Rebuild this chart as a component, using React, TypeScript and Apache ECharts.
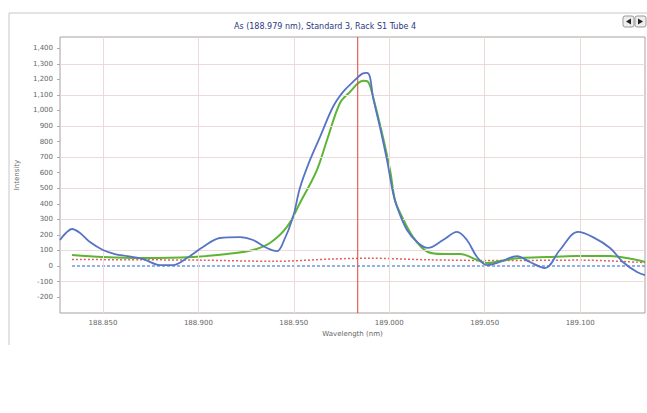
import React, { useEffect, useRef } from "react";
import * as echarts from "echarts";

const titleText = "As (188.979 nm), Standard 3, Rack S1 Tube 4";
const xLabelValues = [188.85, 188.9, 188.95, 189.0, 189.05, 189.1];
const yLabelValues = [-200, -100, 0, 100, 200, 300, 400, 500, 600, 700, 800, 900, 1000, 1100, 1200, 1300, 1400];
const yGridValues = [-100, 100, 300, 500, 700, 900, 1100, 1300];
const peakWavelength = 188.9835;
const yMin = -302;
const yMax = 1472;

const blueX = [188.8275, 188.8306, 188.8338, 188.838, 188.8432, 188.85, 188.8563, 188.8626, 188.871, 188.8799, 188.8867, 188.894, 188.9024, 188.9113, 188.9218, 188.9286, 188.9359, 188.9412, 188.9443, 188.9496, 188.9532, 188.9585, 188.9637, 188.9705, 188.9758, 188.981, 188.9857, 188.9883, 188.9899, 188.9915, 188.9951, 188.9988, 189.002, 189.0041, 189.0093, 189.0151, 189.0203, 189.0282, 189.0355, 189.0407, 189.046, 189.0512, 189.058, 189.0669, 189.0737, 189.0816, 189.0894, 189.0989, 189.1067, 189.1157, 189.1224, 189.1298, 189.134];
const blueY = [167, 212, 238, 212, 154, 103, 77, 64, 45, 6, 6, 51, 122, 180, 186, 167, 116, 96, 148, 315, 502, 682, 829, 1022, 1119, 1183, 1235, 1241, 1215, 1087, 894, 682, 469, 379, 231, 148, 116, 167, 219, 167, 58, 6, 26, 64, 26, -13, 103, 219, 186, 116, 26, -39, -58];

const greenX = [188.8338, 188.85, 188.871, 188.8972, 188.915, 188.9286, 188.9375, 188.9464, 188.9532, 188.9621, 188.9674, 188.9742, 188.9794, 188.9863, 188.9889, 188.9915, 188.9962, 189.0004, 189.003, 189.0057, 189.0125, 189.0203, 189.0282, 189.0371, 189.046, 189.0512, 189.058, 189.0685, 189.0826, 189.0983, 189.1157, 189.1246, 189.134];
const greenY = [71, 58, 51, 58, 77, 103, 148, 251, 405, 617, 810, 1048, 1119, 1190, 1183, 1087, 855, 617, 424, 341, 186, 90, 77, 77, 39, 19, 32, 51, 58, 64, 64, 51, 26];

const redDotX = [188.8338, 188.87, 188.9, 188.94, 188.97, 188.99, 189.02, 189.06, 189.1, 189.134];
const redDotY = [42, 40, 38, 30, 45, 50, 40, 35, 38, 22];

const blueDashX = [188.8338, 189.134];
const blueDashY = [0, 0];

const pairs = (xs: number[], ys: number[]) => xs.map((x, i) => [x, ys[i]]);

export default function App() {
  const ref = useRef<HTMLDivElement>(null);
  useEffect(() => {
    if (!ref.current) return;
    const chart = echarts.init(ref.current, null, { renderer: "svg" });
    const gridColor = "#ecdada";
    chart.setOption({
      animation: false,
      backgroundColor: "#ffffff",
      textStyle: { fontFamily: "DejaVu Sans" },
      title: {
        text: titleText,
        left: 320,
        top: 17,
        textAlign: "center",
        textStyle: { fontSize: 8, fontWeight: "normal", color: "#2e3880", fontFamily: "DejaVu Sans" },
      },
      grid: { left: 60, top: 37, right: 2, bottom: 100, show: true, borderColor: "#a8a09c", borderWidth: 1, backgroundColor: "#ffffff" },
      xAxis: {
        type: "value",
        min: 188.8275,
        max: 189.134,
        name: "Wavelength (nm)",
        nameLocation: "middle",
        nameGap: 16,
        nameTextStyle: { fontSize: 7, color: "#666" },
        axisLine: { show: false },
        axisTick: { show: true, length: 3, customValues: xLabelValues, lineStyle: { color: "#aaa" } },
        axisLabel: { customValues: xLabelValues, fontSize: 7, color: "#666", margin: 6, formatter: (v: number) => v.toFixed(3) },
        splitLine: { show: false },
      },
      yAxis: {
        type: "value",
        min: yMin,
        max: yMax,
        name: "Intensity",
        nameLocation: "middle",
        nameGap: 40,
        nameRotate: 90,
        nameTextStyle: { fontSize: 7, color: "#666" },
        axisLine: { show: false },
        axisTick: { show: true, length: 3, customValues: yLabelValues, lineStyle: { color: "#aaa" } },
        axisLabel: {
          customValues: yLabelValues,
          fontSize: 7,
          color: "#666",
          margin: 7,
          formatter: (v: number) => v.toLocaleString("en-US"),
        },
        splitLine: { show: false },
      },
      graphic: [
        { type: "line", shape: { x1: 9, y1: 13, x2: 647, y2: 13 }, style: { stroke: "#c8c8c8", lineWidth: 1 } },
        { type: "line", shape: { x1: 9, y1: 13, x2: 9, y2: 345 }, style: { stroke: "#c8c8c8", lineWidth: 1 } },
        { type: "rect", shape: { x: 623, y: 16, width: 11, height: 11, r: 2 }, style: { fill: "#eeeeee", stroke: "#999", lineWidth: 1 } },
        { type: "polygon", shape: { points: [[631, 18.5], [631, 24.5], [626, 21.5]] }, style: { fill: "#222" } },
        { type: "rect", shape: { x: 635, y: 16, width: 11, height: 11, r: 2 }, style: { fill: "#eeeeee", stroke: "#999", lineWidth: 1 } },
        { type: "polygon", shape: { points: [[638, 18.5], [638, 24.5], [643, 21.5]] }, style: { fill: "#222" } },
      ],
      series: [
        {
          type: "line",
          name: "grid",
          data: [],
          silent: true,
          z: 1,
          markLine: {
            silent: true,
            symbol: "none",
            label: { show: false },
            lineStyle: { color: gridColor, width: 1, type: "solid" },
            data: [
              ...xLabelValues.map((v) => ({ xAxis: v })),
              ...yGridValues.map((v) => ({ yAxis: v })),
            ],
          },
        },
        {
          type: "line",
          name: "Baseline",
          data: pairs(blueDashX, blueDashY),
          showSymbol: false,
          lineStyle: { color: "#6f96e0", width: 1.5, type: [3, 2] },
          z: 2,
        },
        {
          type: "line",
          name: "Background",
          data: pairs(redDotX, redDotY),
          showSymbol: false,
          smooth: 0.3,
          lineStyle: { color: "#e0605a", width: 1.5, type: [2, 2] },
          z: 3,
        },
        {
          type: "line",
          name: "Fit",
          data: pairs(greenX, greenY),
          showSymbol: false,
          smooth: 0.35,
          lineStyle: { color: "#5cb535", width: 2 },
          z: 4,
        },
        {
          type: "line",
          name: "Peak",
          data: [[peakWavelength, yMin], [peakWavelength, yMax]],
          showSymbol: false,
          silent: true,
          itemStyle: { color: "#e0403a" },
          lineStyle: { color: "#e0403a", width: 1 },
          z: 5,
        },
        {
          type: "line",
          name: "Spectrum",
          data: pairs(blueX, blueY),
          showSymbol: false,
          smooth: 0.35,
          lineStyle: { color: "#5674c6", width: 1.8 },
          z: 6,
        },
      ],
    });
    return () => chart.dispose();
  }, []);
  return <div ref={ref} style={{ position: "absolute", left: 0, top: 0, width: 647, height: 413 }} />;
}
